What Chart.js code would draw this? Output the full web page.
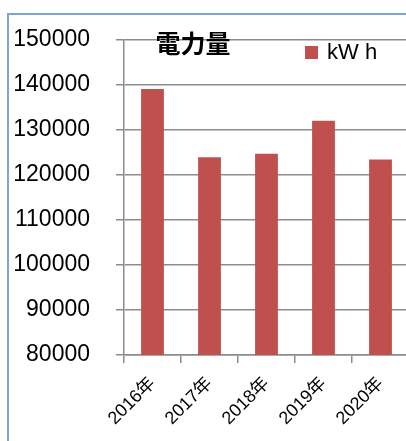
<!DOCTYPE html>
<html>
<head>
<meta charset="utf-8">
<script src="https://cdn.jsdelivr.net/npm/chart.js@4"></script>
<style>
  html, body { margin: 0; padding: 0; background: #fff; overflow: hidden; }
  #wrap { position: relative; width: 406px; height: 441px; overflow: hidden; }
  #frame { position: absolute; left: 7px; top: 13px; width: 420px; height: 440px;
           border-left: 2px solid #7aa6da; border-top: 2px solid #7aa6da; }
  canvas { position: absolute; left: 0; top: 0; }
</style>
</head>
<body>
<div id="wrap">
  <div id="frame"></div>
  <canvas id="kwhChart" width="409" height="441"></canvas>
</div>
<script>
// 電力量 (kW h) per year
const years = ["2016年", "2017年", "2018年", "2019年", "2020年"];
const kwh = [139100, 123900, 124700, 132000, 123400];
const yTicks = [80000, 90000, 100000, 110000, 120000, 130000, 140000, 150000];

const gridColor = "#8c8c8c";

// title + legend sit inside the plot area
const overlay = {
  id: "overlay",
  afterDraw(chart) {
    const ctx = chart.ctx;
    ctx.save();
    ctx.fillStyle = "#000";
    ctx.textBaseline = "middle";
    ctx.textAlign = "center";
    ctx.font = "bold 25px 'Noto Sans CJK JP'";
    ctx.fillText("電力量", 193, 43);
    ctx.fillStyle = "#C0504D";
    ctx.fillRect(305, 46, 13, 13);
    ctx.fillStyle = "#000";
    ctx.textAlign = "left";
    ctx.font = "22px 'Liberation Sans'";
    ctx.fillText(chart.data.datasets[0].label, 327, 53);
    ctx.restore();
  },
};

new Chart(document.getElementById("kwhChart").getContext("2d"), {
  type: "bar",
  data: {
    labels: years,
    datasets: [
      {
        label: "kW h",
        data: kwh,
        backgroundColor: "#C0504D",
        barPercentage: 0.4,
        categoryPercentage: 1,
      },
    ],
  },
  options: {
    responsive: false,
    animation: false,
    layout: { padding: { top: 32, right: 0, left: 0, bottom: 0 } },
    plugins: { legend: { display: false }, tooltip: { enabled: false } },
    scales: {
      x: {
        grid: { drawOnChartArea: false, tickLength: 8, color: gridColor, lineWidth: 1.5 },
        border: { color: gridColor, width: 1.5 },
        ticks: {
          color: "#000",
          font: { size: 18, family: "'Liberation Sans', 'Noto Sans CJK JP'" },
          maxRotation: 45,
          minRotation: 45,
          padding: 10,
        },
        afterFit(axis) { axis.height = 86; },
      },
      y: {
        min: 80000,
        max: 150000,
        afterBuildTicks(axis) { axis.ticks = yTicks.map((v) => ({ value: v })); },
        grid: { color: gridColor, tickLength: 8, lineWidth: 1.5 },
        border: { color: gridColor, width: 1.5 },
        ticks: {
          color: "#000",
          font: { size: 23, family: "'Liberation Sans'" },
          padding: 26,
          callback: (v) => String(v),
        },
        afterFit(axis) { axis.width = 124; },
      },
    },
  },
  plugins: [overlay],
});
</script>
</body>
</html>
